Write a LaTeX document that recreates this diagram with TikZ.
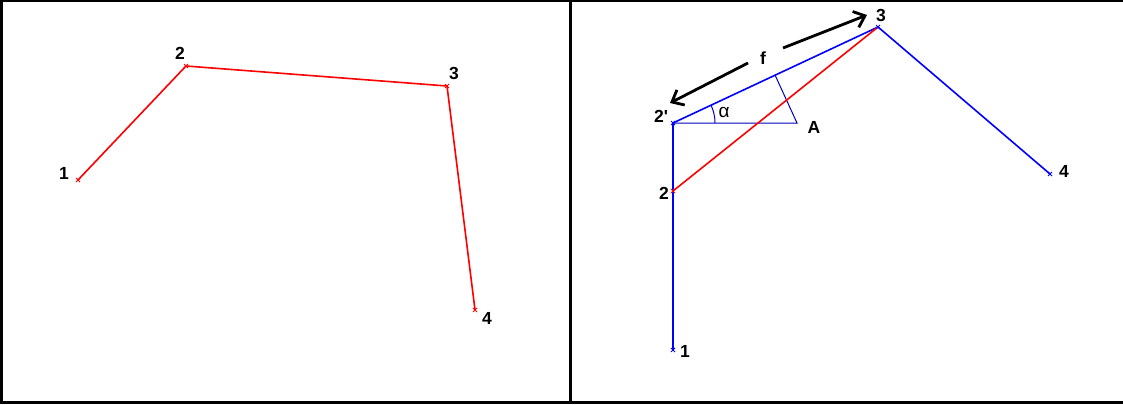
\documentclass[tikz,border=0pt]{standalone}
\usepackage{fontspec}
\setmainfont{Liberation Sans}
\usetikzlibrary{arrows.meta,calc}
\begin{document}
\begin{tikzpicture}[x=1pt,y=-1pt,
  lbl/.style={font=\fontsize{17.5}{17.5}\selectfont\bfseries, inner sep=0pt},
  redline/.style={draw=red, line width=1.6pt},
  blueline/.style={draw=blue, line width=1.6pt},
  thinblue/.style={draw=blue!75!black, line width=1pt},
  bigarrow/.style={draw=black, line width=2.8pt, -{Straight Barb[length=10pt,width=17pt,line width=2.8pt]}},
  frame/.style={draw=black, line width=3pt}]
\useasboundingbox (0,0) rectangle (1123,404);
\fill[white] (0,0) rectangle (1123,404);
\draw[black, line width=2pt] (0,1) -- (1123,1);
\draw[frame] (0,402) -- (1123,402);
\draw[frame] (1.5,0) -- (1.5,404);
\draw[frame] (570,0) -- (570,404);
% left panel
\coordinate (L1) at (78,180);
\coordinate (L2) at (186,66);
\coordinate (L3) at (447,86);
\coordinate (L4) at (475,310);
\draw[redline] (L1) -- (L2) -- (L3) -- (L4);
\foreach \p in {L1,L2,L3,L4}{\draw[red,line width=0.9pt] ($(\p)+(-2,-2)$) -- ($(\p)+(2,2)$) ($(\p)+(-2,2)$) -- ($(\p)+(2,-2)$);}
\node[lbl] (l1) at (64,173) {1};
\node[lbl] (l2) at (180,53) {2};
\node[lbl] (l3) at (454,73) {3};
\node[lbl] (l4) at (487,318) {4};
% right panel
\coordinate (R1) at (673,350);
\coordinate (R2) at (673,191);
\coordinate (R2p) at (673,123);
\coordinate (R3) at (878,27);
\coordinate (R4) at (1050,174);
\coordinate (A) at (797,123);
\coordinate (F) at (775,75);
\draw[thinblue] (R2p) -- (A) -- (F);
\draw[thinblue] ([shift={(0:42)}]R2p) arc[start angle=0, end angle=-25, radius=42];
\draw[blueline, line join=round] (R1) -- (R2p) -- (R3) -- (R4);
\draw[redline] (R2) -- (R3);
\foreach \p in {R1,R2p,R3,R4}{\draw[blue,line width=0.9pt] ($(\p)+(-2,-2)$) -- ($(\p)+(2,2)$) ($(\p)+(-2,2)$) -- ($(\p)+(2,-2)$);}
\draw[red,line width=0.9pt] ($(R2)+(-2,-2)$) -- ($(R2)+(2,2)$) ($(R2)+(-2,2)$) -- ($(R2)+(2,-2)$);
\node[lbl] (r1) at (685,351) {1};
\node[lbl] (r2) at (664,193) {2};
\node[lbl] (r2p) at (661,116) {2\textquotesingle};
\node[lbl] (r3) at (881,15) {3};
\node[lbl] (r4) at (1064,171) {4};
\node[lbl] (ra) at (814,127) {A};
\node[inner sep=0pt, font=\fontsize{19}{19}\selectfont] (alpha) at (724,112) {α};
\node[lbl] (f) at (763,58) {f};
\coordinate (fa1) at (748,63);
\coordinate (fa1e) at (670,103);
\coordinate (fa2) at (783,48);
\coordinate (fa2e) at (867,15);
\draw[bigarrow] (fa1) -- (fa1e);
\draw[bigarrow] (fa2) -- (fa2e);
\end{tikzpicture}
\end{document}
